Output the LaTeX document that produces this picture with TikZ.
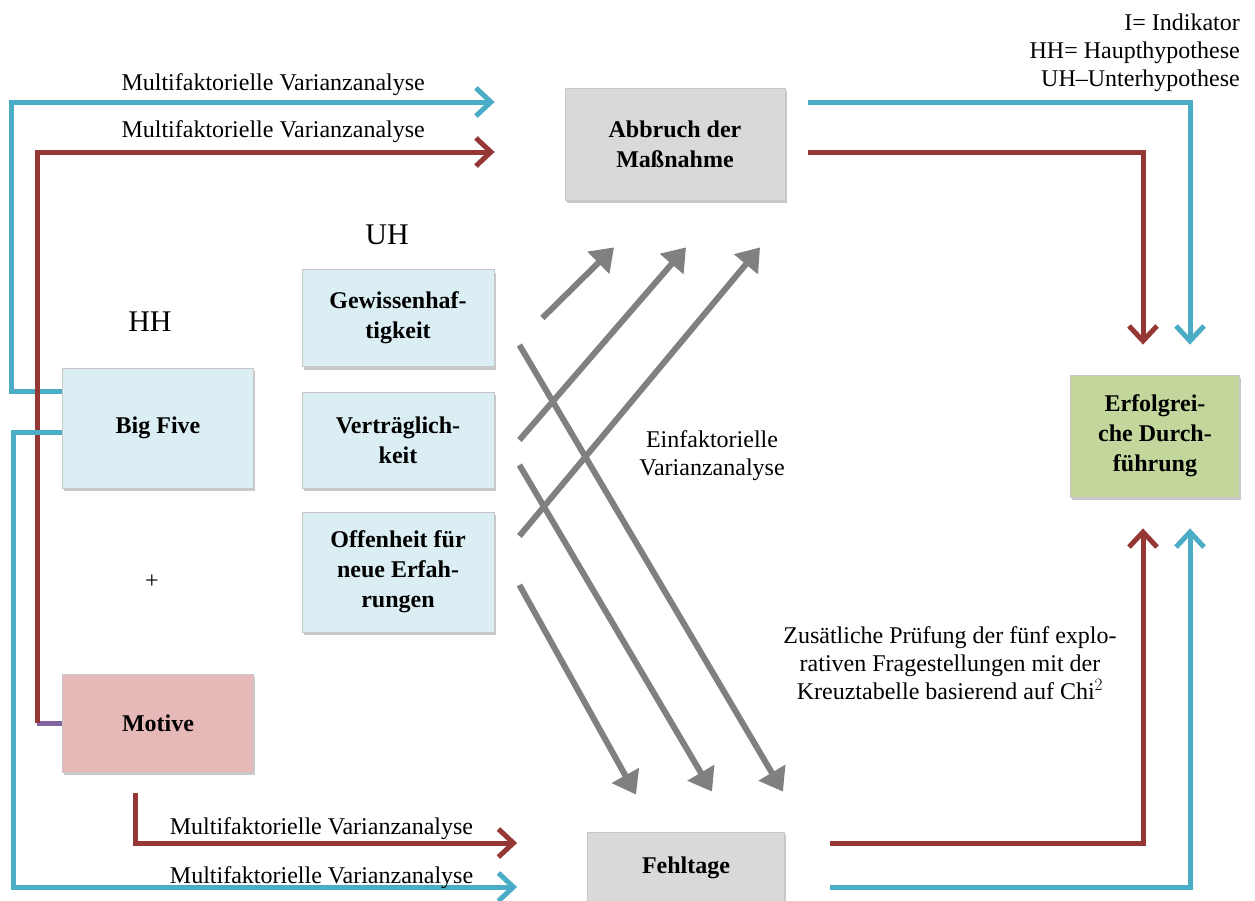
\documentclass[tikz,border=0pt]{standalone}
\usepackage{fontspec}
\setmainfont{Liberation Serif}
\usetikzlibrary{arrows.meta,positioning,shadows}
\definecolor{hhblue}{HTML}{4BACC6}
\definecolor{hhred}{HTML}{953735}
\definecolor{hhviolet}{HTML}{8064A2}
\definecolor{arrowgray}{HTML}{808080}
\definecolor{uhfill}{HTML}{DBEEF4}
\definecolor{motivefill}{HTML}{E6B9B8}
\definecolor{outfill}{HTML}{D9D9D9}
\definecolor{successfill}{HTML}{C3D69B}
\tikzset{
box/.style={draw=black!22,line width=0.8pt,align=center,inner sep=2pt,
  font=\fontsize{24}{30}\selectfont\bfseries,
  drop shadow={shadow xshift=1.5pt,shadow yshift=-3pt,opacity=0.3,fill=black!70}},
outbox/.style={box,fill=outfill},
uhbox/.style={box,fill=uhfill,minimum width=192pt,minimum height=#1},
hhbox/.style={box,minimum width=191pt,minimum height=#1},
successbox/.style={box,fill=successfill,minimum width=169pt,minimum height=122pt},
plain text/.style={align=center,inner sep=0pt,font=\fontsize{24}{28}\selectfont},
big text/.style={inner sep=0pt,font=\fontsize{30}{34}\selectfont},
bluearr/.style={draw=hhblue,line width=5pt,-{Straight Barb[length=15pt,width=28pt]}},
redarr/.style={draw=hhred,line width=5pt,-{Straight Barb[length=15pt,width=28pt]}},
grayarr/.style={draw=arrowgray,line width=6pt,-{Triangle[length=22pt,width=30pt]}},
}

\begin{document}
\begin{tikzpicture}[x=1pt,y=-1pt]
        \useasboundingbox (0,0) rectangle (1255,900);

        % Outcome boxes
        \node[outbox,minimum width=220pt,minimum height=112pt] (abbruch) at (675,144) {Abbruch der\\Maßnahme};
        \node[outbox,minimum width=197pt,minimum height=72pt] (fehltage) at (686,868) {Fehltage};
        \node[successbox] (erfolg) at (1155,436) {Erfolgrei-\\che Durch-\\führung};

        % Hypotheses
        \node[big text] (hh) at (150,322) {HH};
        \node[big text] (uh) at (387,235) {UH};
        \node[hhbox=120pt,fill=uhfill] (bigfive) at (158,428) {Big Five};
        \node[plain text] (plus) at (152,582) {+};
        \node[hhbox=98pt,fill=motivefill] (motive) at (158,723) {Motive};
        \node[uhbox=97pt] (gewissen) at (398,318) {Gewissenhaf-\\tigkeit};
        \node[uhbox=96pt] (vertraeg) at (398,440) {Verträglich-\\keit};
        \node[uhbox=120pt] (offenheit) at (398,572) {Offenheit für\\neue Erfah-\\rungen};

        % Legend and notes
        \node[plain text,align=right,anchor=north east] (legend) at (1240,14)
        {I= Indikator\\HH= Haupthypothese\\UH–Unterhypothese};
        \node[plain text] (einfakt) at (712,456) {Einfaktorielle\\Varianzanalyse};
        \node[plain text] (chi) at (950,663)
        {Zusätliche Prüfung der fünf explo-\\rativen Fragestellungen mit der\\Kreuztabelle basierend auf Chi$^2$};

        % Left side: multifactorial analyses
        \draw[bluearr] ([yshift=37pt]bigfive.west) -- ++(-51,0)
        |- ([xshift=-70pt,yshift=42pt]abbruch.west)
        node[plain text,pos=0.771,above=4pt] {Multifaktorielle Varianzanalyse};
        \draw[draw=hhviolet,line width=5pt] (motive.west) -- ++(-25,0) coordinate (mcorner);
        \draw[redarr] (mcorner) |- ([xshift=-70pt,yshift=-8pt]abbruch.west)
        node[plain text,pos=0.758,above=7pt] {Multifaktorielle Varianzanalyse};
        \draw[redarr] ([xshift=-23pt,yshift=-21pt]motive.south)
        |- ([xshift=-70pt,yshift=25pt]fehltage.west)
        node[plain text,pos=0.744,above=1pt] {Multifaktorielle Varianzanalyse};
        \draw[bluearr] ([yshift=-4pt]bigfive.west) -- ++(-49,0)
        |- ([xshift=-70pt,yshift=-19pt]fehltage.west)
        node[plain text,pos=0.806,above=-4pt] {Multifaktorielle Varianzanalyse};

        % One-factor analyses
        \draw[grayarr] ([xshift=48pt]gewissen.east) -- ([xshift=-61pt,yshift=-47pt]abbruch.south);
        \draw[grayarr] ([xshift=25pt]vertraeg.east) -- ([xshift=11pt,yshift=-47pt]abbruch.south);
        \draw[grayarr] ([xshift=25pt,yshift=36pt]offenheit.east) -- ([xshift=85pt,yshift=-47pt]abbruch.south);
        \draw[grayarr] ([xshift=25pt,yshift=-27pt]gewissen.east) -- ([xshift=97pt,yshift=40pt]fehltage.north);
        \draw[grayarr] ([xshift=25pt,yshift=-25pt]vertraeg.east) -- ([xshift=26pt,yshift=40pt]fehltage.north);
        \draw[grayarr] ([xshift=25pt,yshift=-13pt]offenheit.east) -- ([xshift=-50pt,yshift=37pt]fehltage.north);

        % Right side: to success
        \draw[bluearr] ([xshift=23pt,yshift=42pt]abbruch.east) -| ([xshift=35pt,yshift=30pt]erfolg.north);
        \draw[redarr] ([xshift=23pt,yshift=-8pt]abbruch.east) -| ([xshift=-12pt,yshift=30pt]erfolg.north);
        \draw[redarr] ([xshift=45pt,yshift=25pt]fehltage.east) -| ([xshift=-12pt,yshift=-31pt]erfolg.south);
        \draw[bluearr] ([xshift=45pt,yshift=-19pt]fehltage.east) -| ([xshift=35pt,yshift=-31pt]erfolg.south);

\end{tikzpicture}
\end{document}
